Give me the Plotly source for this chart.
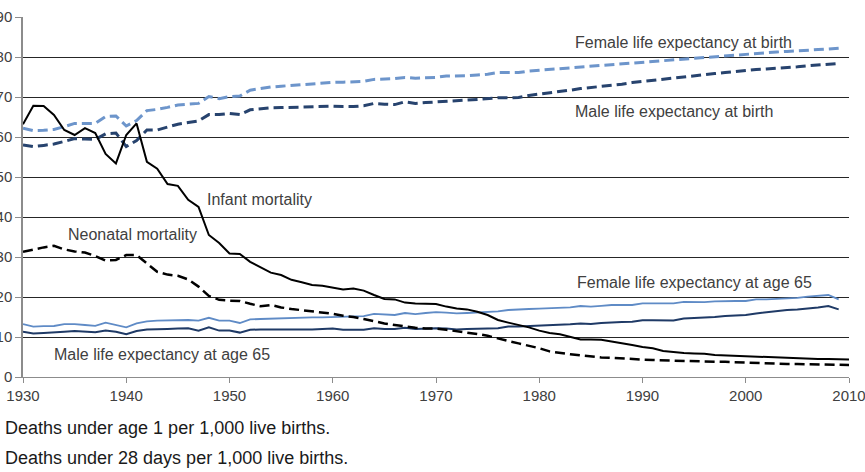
import plotly.graph_objects as go

years = list(range(1930, 2011))
years_le = list(range(1930, 2010))

infant_mortality = [
    63.2, 67.8, 67.75, 65.5, 61.75, 60.5, 62.2, 61.0, 55.75, 53.4,
    60.5, 63.4, 53.8, 52.1, 48.25, 47.8, 44.3, 42.5, 35.5, 33.5,
    30.9, 30.75, 28.8, 27.4, 26.1, 25.5, 24.3, 23.7, 23.0, 22.8,
    22.3, 21.9, 22.1, 21.6, 20.5, 19.5, 19.4, 18.6, 18.4, 18.3,
    18.25, 17.6, 17.1, 16.9, 16.3, 15.5, 14.25, 13.6, 13.0, 12.4,
    11.6, 11.0, 10.7, 10.0, 9.4, 9.4, 9.3, 8.9, 8.5, 8.0,
    7.5, 7.2, 6.5, 6.2, 6.0, 5.9, 5.8, 5.5, 5.4, 5.3,
    5.2, 5.1, 4.9, 4.9, 4.85, 4.7, 4.6, 4.5, 4.5, 4.45,
    4.4,
]

neonatal_mortality = [
    31.3, 31.9, 32.4, 32.8, 31.9, 31.4, 31.1, 30.25, 29.1, 29.25,
    30.5, 30.5, 28.4, 26.3, 25.6, 25.3, 24.4, 22.6, 20.25, 19.3,
    19.1, 19.0, 18.3, 17.7, 18.0, 17.4, 17.0, 16.7, 16.3, 16.0,
    15.8, 15.3, 15.0, 14.5, 13.9, 13.4, 13.0, 12.6, 12.3, 12.1,
    12.1, 11.8, 11.5, 11.1, 10.75, 10.3, 9.6, 9.0, 8.4, 7.8,
    7.2, 6.4, 6.0, 5.7, 5.4, 5.1, 4.9, 4.8, 4.6, 4.5,
    4.35, 4.25, 4.15, 4.05, 3.95, 3.85, 3.8, 3.8, 3.8, 3.7,
    3.55, 3.4, 3.35, 3.3, 3.25, 3.25, 3.2, 3.15, 3.1, 3.05,
    3.0,
]

female_le_birth = [
    62.2, 61.6, 61.7, 61.9, 62.6, 63.4, 63.4, 63.4, 65.1, 65.25,
    62.75, 64.1, 66.6, 66.9, 67.4, 68.0, 68.2, 68.4, 70.1, 69.6,
    70.1, 70.25, 71.7, 72.1, 72.5, 72.7, 72.9, 73.1, 73.3, 73.5,
    73.65, 73.7, 73.8, 73.9, 74.4, 74.5, 74.6, 74.9, 74.7, 74.8,
    74.9, 75.25, 75.2, 75.3, 75.5, 75.7, 76.1, 76.1, 76.1, 76.5,
    76.7, 76.9, 77.2, 77.4, 77.6, 77.8, 78.0, 78.2, 78.4, 78.6,
    78.8, 79.0, 79.2, 79.3, 79.5, 79.7, 79.9, 80.1, 80.3, 80.5,
    80.7, 80.9, 81.1, 81.25, 81.4, 81.5, 81.7, 81.85, 82.0, 82.2,
]

male_le_birth = [
    58.0, 57.6, 57.9, 58.25, 58.9, 59.6, 59.5, 59.4, 60.8, 61.0,
    57.6, 59.1, 61.75, 61.75, 62.5, 63.2, 63.6, 64.0, 65.6, 65.6,
    65.9, 65.6, 66.8, 67.1, 67.3, 67.35, 67.4, 67.5, 67.6, 67.7,
    67.7, 67.6, 67.6, 67.8, 68.4, 68.2, 68.1, 68.8, 68.4, 68.6,
    68.8, 69.0, 69.1, 69.25, 69.4, 69.6, 69.8, 69.8, 69.9, 70.4,
    70.7, 71.0, 71.35, 71.7, 72.1, 72.35, 72.6, 72.9, 73.2, 73.6,
    73.9, 74.2, 74.5, 74.8, 75.1, 75.35, 75.6, 75.85, 76.1, 76.4,
    76.7, 76.85, 77.0, 77.15, 77.35, 77.55, 77.8, 78.0, 78.2, 78.4,
]

female_le_65 = [
    13.2, 12.6, 12.7, 12.75, 13.2, 13.2, 13.0, 12.8, 13.6, 13.0,
    12.4, 13.4, 13.9, 14.1, 14.2, 14.25, 14.25, 14.1, 14.8, 14.1,
    14.1, 13.5, 14.4, 14.5, 14.6, 14.6, 14.7, 14.9, 14.9, 14.9,
    15.0, 15.1, 15.1, 15.2, 15.8, 15.6, 15.5, 16.0, 15.7, 16.0,
    16.2, 16.1, 15.9, 16.0, 16.1, 16.2, 16.4, 16.75, 16.8, 17.0,
    17.1, 17.2, 17.3, 17.4, 17.75, 17.6, 17.8, 18.0, 18.0, 18.0,
    18.4, 18.4, 18.4, 18.4, 18.8, 18.7, 18.7, 18.9, 19.0, 19.0,
    19.0, 19.4, 19.4, 19.5, 19.6, 19.8, 20.1, 20.3, 20.5, 19.4,
]

male_le_65 = [
    11.3, 10.9, 11.0, 11.1, 11.3, 11.5, 11.3, 11.2, 11.6, 11.3,
    10.7, 11.5, 11.9, 11.9, 12.0, 12.1, 12.2, 11.6, 12.4, 11.6,
    11.6, 11.1, 11.8, 11.9, 11.9, 11.8, 11.8, 11.9, 11.9, 12.0,
    12.1, 11.8, 11.75, 11.8, 12.2, 12.0, 12.0, 12.3, 12.0, 12.1,
    12.2, 12.1, 11.9, 12.0, 12.0, 12.1, 12.2, 12.6, 12.6, 12.7,
    12.75, 12.9, 13.0, 13.2, 13.4, 13.25, 13.5, 13.7, 13.75, 13.8,
    14.2, 14.2, 14.1, 14.1, 14.6, 14.7, 14.8, 15.0, 15.25, 15.4,
    15.5, 15.9, 16.2, 16.5, 16.75, 16.9, 17.1, 17.4, 17.75, 16.9,
]

x_ticks = [1930, 1940, 1950, 1960, 1970, 1980, 1990, 2000, 2010]
y_ticks = [0, 10, 20, 30, 40, 50, 60, 70, 80, 90]

labels = [
    ("Female life expectancy at birth", 1983.3, 83.6),
    ("Male life expectancy at birth", 1983.3, 66.5),
    ("Infant mortality", 1947.6, 44.5),
    ("Neonatal mortality", 1934.2, 35.75),
    ("Female life expectancy at age 65", 1983.5, 23.75),
    ("Male life expectancy at age 65", 1932.8, 5.75),
]
notes = [
    "Deaths under age 1 per 1,000 live births.",
    "Deaths under 28 days per 1,000 live births.",
]

LIGHT = "#6d95cb"
DARK = "#27436e"
FONT = "Liberation Sans, Arial, sans-serif"

fig = go.Figure()
fig.add_trace(go.Scatter(x=years_le, y=female_le_65, mode="lines",
                         line=dict(color="#5f8bc6", width=1.8)))
fig.add_trace(go.Scatter(x=years_le, y=male_le_65, mode="lines",
                         line=dict(color="#1f3a66", width=2)))
fig.add_trace(go.Scatter(x=years_le, y=female_le_birth, mode="lines",
                         line=dict(color=LIGHT, width=3, dash="10px,5px")))
fig.add_trace(go.Scatter(x=years_le, y=male_le_birth, mode="lines",
                         line=dict(color=DARK, width=3, dash="10px,5px")))
fig.add_trace(go.Scatter(x=years, y=neonatal_mortality, mode="lines",
                         line=dict(color="#000000", width=2.5, dash="10px,5px")))
fig.add_trace(go.Scatter(x=years, y=infant_mortality, mode="lines",
                         line=dict(color="#000000", width=2)))

for text, x, y in labels:
    fig.add_annotation(x=x, y=y, xref="x", yref="y", text=text, showarrow=False,
                       xanchor="left", yanchor="middle",
                       font=dict(family=FONT, size=16, color="#404040"))

for i, t in enumerate(notes):
    fig.add_annotation(x=-0.0242, y=[-0.142, -0.225][i], xref="paper", yref="paper",
                       text=t, showarrow=False, xanchor="left", yanchor="middle",
                       font=dict(family=FONT, size=18, color="#1a1a1a"))

fig.update_layout(
    width=865, height=472,
    margin=dict(l=23, r=16, t=17, b=95),
    paper_bgcolor="white", plot_bgcolor="white",
    showlegend=False,
    font=dict(family=FONT, color="#404040"),
)
fig.update_xaxes(range=[1930, 2010], tickvals=x_ticks, ticktext=[str(v) for v in x_ticks],
                 showgrid=False, zeroline=False, showline=True, linecolor="#8c8c8c",
                 linewidth=1, ticks="outside", ticklen=5, tickcolor="#8c8c8c",
                 ticklabeloverflow="allow",
                 tickfont=dict(family=FONT, size=15, color="#404040"), automargin=False)
fig.update_yaxes(range=[0, 90], tickvals=y_ticks, ticktext=[str(v) for v in y_ticks],
                 showgrid=True, gridcolor="#262626", gridwidth=1, zeroline=False,
                 showline=True, linecolor="#8c8c8c", linewidth=1.5,
                 ticks="outside", ticklen=6, tickcolor="#8c8c8c",
                 ticklabeloverflow="allow",
                 tickfont=dict(family=FONT, size=15, color="#404040"), automargin=False)

fig.write_html("out.html")
